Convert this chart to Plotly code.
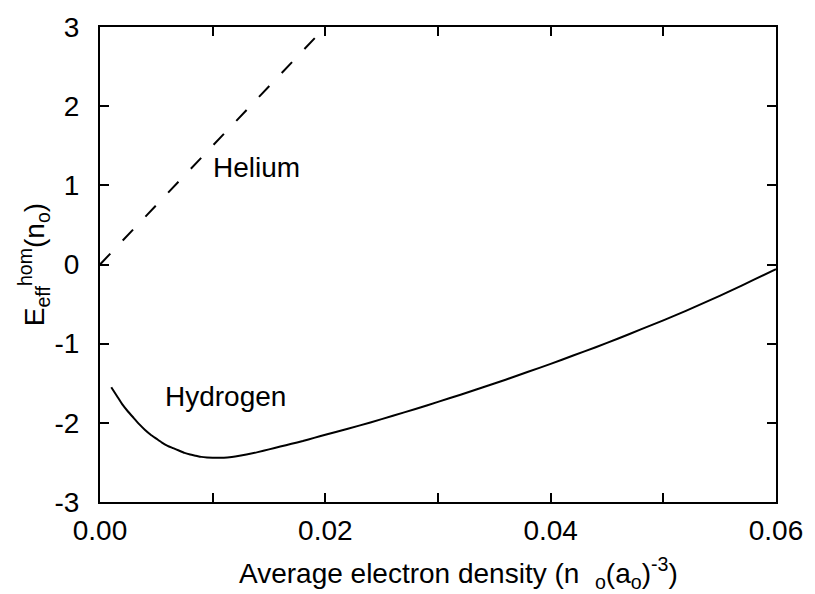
import plotly.graph_objects as go

# Hydrogen: effective homogeneous energy vs. average electron density
h_density = [0.001, 0.0015, 0.002, 0.0025, 0.003, 0.0035, 0.004, 0.0045, 0.005, 0.0055,
             0.006, 0.0065, 0.007, 0.0075, 0.008, 0.0085, 0.009, 0.0095, 0.010, 0.0105,
             0.011, 0.0115, 0.012, 0.013, 0.014, 0.015, 0.016, 0.017, 0.018, 0.019,
             0.020, 0.022, 0.024, 0.026, 0.028, 0.030, 0.032, 0.034, 0.036, 0.038,
             0.040, 0.042, 0.044, 0.046, 0.048, 0.050, 0.052, 0.054, 0.056, 0.058, 0.060]
h_energy = [-1.55, -1.66, -1.77, -1.86, -1.94, -2.02, -2.09, -2.15, -2.20, -2.25,
            -2.29, -2.32, -2.35, -2.38, -2.40, -2.415, -2.43, -2.437, -2.44, -2.442,
            -2.44, -2.435, -2.425, -2.40, -2.37, -2.335, -2.30, -2.265, -2.23, -2.19,
            -2.15, -2.075, -1.995, -1.91, -1.825, -1.735, -1.645, -1.55, -1.455, -1.355,
            -1.255, -1.15, -1.045, -0.935, -0.82, -0.705, -0.585, -0.46, -0.33, -0.195, -0.06]

# Helium: straight dashed line
he_density = [0.0, 0.02]
he_energy = [0.0, 3.0]

x_tickvals = [0.00, 0.01, 0.02, 0.03, 0.04, 0.05, 0.06]
x_ticktext = ["0.00", "", "0.02", "", "0.04", "", "0.06"]
y_tickvals = [-3, -2, -1, 0, 1, 2, 3]
y_ticktext = ["-3", "-2", "-1", "0", "1", "2", "3"]

FONT = "Liberation Sans, Arial, Helvetica, sans-serif"

fig = go.Figure()
fig.add_trace(go.Scatter(x=h_density, y=h_energy, mode="lines",
                         line=dict(color="black", width=2, shape="spline", smoothing=0.5),
                         showlegend=False))
fig.add_trace(go.Scatter(x=he_density, y=he_energy, mode="lines",
                         line=dict(color="black", width=2, dash="15px,18px"),
                         showlegend=False))

fig.add_annotation(x=0.0139, y=1.22, text="Helium", showarrow=False,
                   font=dict(size=28, color="black", family=FONT))
fig.add_annotation(x=0.0111, y=-1.67, text="Hydrogen", showarrow=False,
                   font=dict(size=28, color="black", family=FONT))

# x-axis title
fig.add_annotation(xref="paper", yref="paper", x=0.531, y=-0.1505,
                   xanchor="center", yanchor="middle", showarrow=False,
                   text="Average electron density (n &nbsp;<sub>o</sub>(a<sub>o</sub>)<sup>-3</sup>)",
                   font=dict(size=28, color="black", family=FONT))

axis_common = dict(showgrid=False, zeroline=False, showline=True, linecolor="black",
                   linewidth=2, mirror="ticks", ticks="inside", ticklen=9,
                   tickwidth=2, tickcolor="black",
                   tickfont=dict(size=28, color="black", family=FONT))

fig.update_xaxes(range=[0, 0.06], tickvals=x_tickvals, ticktext=x_ticktext,
                 ticklabelstandoff=2, **axis_common)
fig.update_yaxes(range=[-3, 3], tickvals=y_tickvals, ticktext=y_ticktext,
                 ticklabelstandoff=13,
                 title=dict(text="E<sub>eff</sub><sup>hom</sup>(n<sub>o</sub>)",
                            font=dict(size=28, color="black", family=FONT), standoff=2),
                 **axis_common)

fig.update_layout(width=815, height=594, plot_bgcolor="white", paper_bgcolor="white",
                  margin=dict(l=100, r=33, t=17, b=92))

fig.write_html("out.html")
